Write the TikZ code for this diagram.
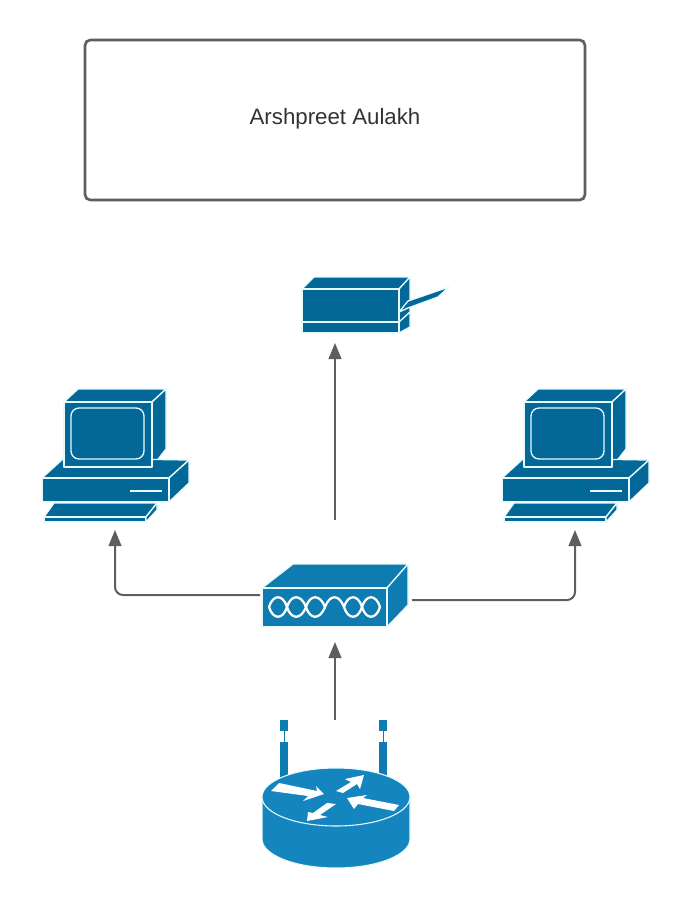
\documentclass[tikz,border=0pt]{standalone}
\usepackage{fontspec}
\setmainfont{Liberation Sans}
\usetikzlibrary{arrows.meta, positioning}
\definecolor{darkblue}{RGB}{3, 104, 151}
\definecolor{hubblue}{RGB}{14, 124, 176}
\definecolor{routerblue}{RGB}{21, 133, 191}
\definecolor{edgeline}{RGB}{232, 250, 252}
\definecolor{linegrey}{RGB}{94, 94, 94}
\definecolor{textgrey}{RGB}{51, 51, 51}
\tikzset{
  >=Stealth,
  flowarrow/.style={-{Stealth[inset=0pt, length=12pt, width=9.5pt]}, line width=1.5pt, linegrey, rounded corners=6pt},
  titlebox/.style={draw=linegrey, line width=2pt, rounded corners=4pt, minimum width=375pt, minimum height=120pt,
    text=textgrey, font=\fontsize{16.7}{20}\selectfont, text height=12pt, text depth=6pt},
  iconface/.style={fill=darkblue, draw=edgeline, line width=1pt, line join=round},
  hubface/.style={fill=hubblue, draw=edgeline, line width=1pt, line join=round},
  routerface/.style={fill=routerblue, draw=edgeline, line width=0.8pt},
  antenna/.style={fill=hubblue, draw=none},
  routermark/.style={fill=white, draw=none},
  wavestrand/.style={draw=white, line width=1.7pt, line cap=round},
  pics/desktop/.style={code={
    % monitor
    \draw[iconface] (64,402) -- (78,389) -- (166,389) -- (152,402) -- cycle;
    \draw[iconface] (152,402) -- (166,389) -- (166,449) -- (152,467) -- cycle;
    % base
    \draw[iconface] (42,478) -- (64,458) -- (189,460) -- (169,478) -- cycle;
    \draw[iconface] (169,478) -- (189,460) -- (189,483) -- (169,502) -- cycle;
    \draw[iconface] (42,478) rectangle (169,502);
    \draw[iconface] (64,402) rectangle (152,467);
    \draw[iconface, rounded corners=6pt] (71,408) rectangle (144,459);
    \draw[iconface, line width=1.7pt] (130,491) -- (162,491);
    % keyboard
    \draw[iconface] (44,517) -- (54,503) -- (157,503) -- (146,517) -- cycle;
    \draw[iconface] (44,517) rectangle (146,522);
    \draw[iconface] (146,517) -- (157,503) -- (157,510) -- (146,522) -- cycle;
  }}
}
\begin{document}
\begin{tikzpicture}[x=0.75pt, y=-0.75pt]
    \useasboundingbox (0,0) rectangle (690,910);
    \node (title) [titlebox] at (335,120) {Arshpreet Aulakh};

    % printer
    \draw[iconface] (302,289) -- (314,277) -- (410,277) -- (399,289) -- cycle;
    \draw[iconface] (399,289) -- (410,277) -- (410,327) -- (399,333) -- cycle;
    \draw[iconface] (302,289) rectangle (399,333);
    \draw[iconface] (302,322) -- (399,322);
    \draw[iconface] (399,322) -- (410,312);
    \draw[iconface] (399,312) -- (408,301) -- (449,287) -- (438,297) -- (408,308) -- cycle;

    % two desktops
    \pic at (0,0) {desktop};
    \pic at (460,0) {desktop};

    % hub
    \draw[hubface] (262,588) -- (293,564) -- (408,564) -- (387,588) -- cycle;
    \draw[hubface] (387,588) -- (408,564) -- (408,605) -- (387,627) -- cycle;
    \draw[hubface] (262,588) rectangle (387,627);
    \draw[wavestrand] (269,607) .. controls (273,594) and (283,594) .. (287,607)
        .. controls (291,620) and (301,620) .. (306,607)
        .. controls (310,594) and (320,594) .. (325,607)
        .. controls (330,594) and (339,594) .. (344,607)
        .. controls (348,620) and (358,620) .. (362,607)
        .. controls (366,594) and (376,594) .. (380,607);
    \draw[wavestrand] (269,607) .. controls (273,620) and (283,620) .. (287,607)
        .. controls (291,594) and (301,594) .. (306,607)
        .. controls (310,620) and (320,620) .. (325,607);
    \draw[wavestrand] (344,607) .. controls (348,594) and (358,594) .. (362,607)
        .. controls (366,620) and (376,620) .. (380,607);

    % router
    \fill[antenna] (280,720) rectangle (288,731);
    \fill[antenna] (283.5,731) rectangle (284.5,742);
    \fill[antenna] (280,742) rectangle (288,780);
    \fill[antenna] (379,720) rectangle (387,731);
    \fill[antenna] (382.5,731) rectangle (383.5,742);
    \fill[antenna] (379,742) rectangle (387,780);
    \draw[routerface] (262,797) -- (262,839) arc[start angle=180, end angle=360, x radius=74, y radius=-29] -- (410,797) -- cycle;
    \draw[routerface] (336,797) ellipse[x radius=74, y radius=29];
    \fill[routermark] (279,783) -- (317,791) -- (316,786) -- (324,794) -- (303,801) -- (308,796) -- (271,791) -- cycle;
    \fill[routermark] (364,775) -- (360,789) -- (357,784) -- (343,793) -- (336,791) -- (351,782) -- (345,779) -- cycle;
    \fill[routermark] (347,798) -- (367,795) -- (363,798) -- (399,805) -- (394,811) -- (358,804) -- (354,809) -- cycle;
    \fill[routermark] (307,821) -- (308,812) -- (313,813) -- (327,803) -- (336,804) -- (320,815) -- (328,817) -- cycle;

    % free line ends
    \coordinate (hubleft) at (260,595);
    \coordinate (hubright) at (412,600);
    \coordinate (hubtop) at (335,520);
    \coordinate (printerin) at (335,343);
    \coordinate (leftin) at (115,530);
    \coordinate (rightin) at (575,530);
    \coordinate (routertop) at (335,720);
    \coordinate (hubin) at (335,642);

    \draw[flowarrow] (routertop) -- (hubin);
    \draw[flowarrow] (hubtop) -- (printerin);
    \draw[flowarrow] (hubleft) -| (leftin);
    \draw[flowarrow] (hubright) -| (rightin);
\end{tikzpicture}
\end{document}
